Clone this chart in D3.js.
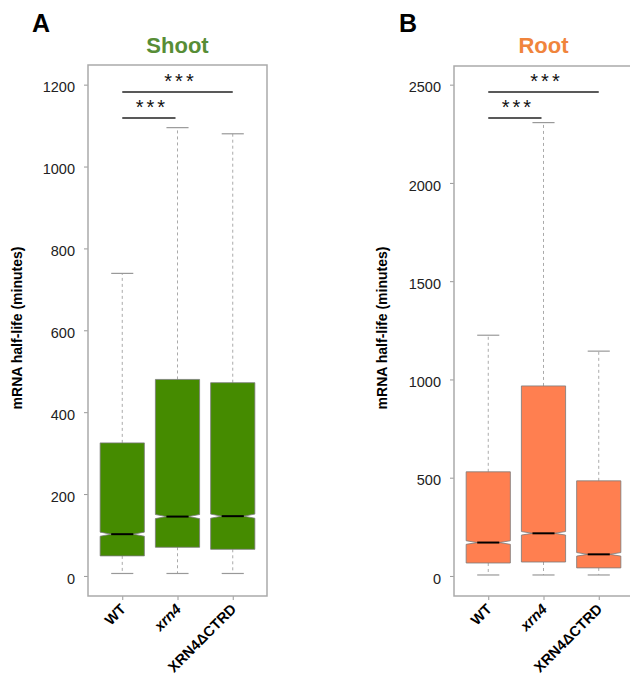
<!DOCTYPE html>
<html>
<head>
<meta charset="utf-8">
<script src="https://cdn.jsdelivr.net/npm/d3@7"></script>
<style>
  body { margin: 0; background: #fff; }
  svg { font-family: "Liberation Sans", Arial, sans-serif; }
</style>
</head>
<body>
<svg id="fig" width="630" height="677"></svg>
<script>
// groups on the x axis
let groups = ["WT", "xrn4", "XRN4ΔCTRD"]

// Shoot (panel A) box stats, minutes
let shootLow  = [6, 6, 6]
let shootQ1   = [49, 70, 65]
let shootMed  = [102, 145, 146]
let shootQ3   = [325, 480, 472]
let shootHigh = [739, 1095, 1080]
let shootNotch = [5, 5, 5]
let shootTicks = [0, 200, 400, 600, 800, 1000, 1200]

// Root (panel B) box stats, minutes
let rootLow  = [5, 5, 5]
let rootQ1   = [66, 71, 41]
let rootMed  = [170, 217, 110]
let rootQ3   = [530, 967, 484]
let rootHigh = [1225, 2307, 1144]
let rootNotch = [9, 9, 9]
let rootTicks = [0, 500, 1000, 1500, 2000, 2500]

// significance brackets: [from group, to group], label
let sigPairs = [[0, 1], [0, 2]]
let sigLabels = ["***", "***"]

let svg = d3.select("#fig")

let BoxPanel = function(opt){

    let g = svg.append("g")
    let L = opt.left, R = opt.right, T = opt.top, B = opt.bottom

    let x = d3.scaleLinear().domain([0.38, 3.62]).range([L, R])
    let y = d3.scaleLinear().domain(opt.domain).range([B, T])
    let halfW = x(1.4) - x(1)   // box half width = 0.4 units
    let capW = halfW / 2

    // panel letter + title
    g.append("text").attr("x", opt.letterX).attr("y", 32)
        .attr("font-size", 25).attr("font-weight", "bold").attr("fill", "#000")
        .text(opt.letter)
    g.append("text").attr("x", (L+R)/2).attr("y", 53)
        .attr("text-anchor", "middle").attr("font-size", 22).attr("font-weight", "bold")
        .attr("fill", opt.titleColor).text(opt.title)

    // y axis
    let yAxis = g.append("g").attr("transform", `translate(${L},0)`)
        .call(d3.axisLeft(y).tickValues(opt.ticks).tickSize(4).tickPadding(9).tickFormat(d3.format("d")))
    yAxis.select(".domain").remove()
    yAxis.selectAll("line").attr("stroke", "#999")
    yAxis.selectAll("text").attr("font-size", 14.5).attr("fill", "#222")
        .attr("font-family", "'Liberation Sans', Arial, sans-serif").attr("dy", "0.5em")

    // x axis
    let xAxis = g.append("g").attr("transform", `translate(0,${B})`)
        .call(d3.axisBottom(x).tickValues([1, 2, 3]).tickSize(4).tickFormat(i => groups[i-1]))
    xAxis.select(".domain").remove()
    xAxis.selectAll("line").attr("stroke", "#999")
    xAxis.selectAll("text")
        .attr("x", 0).attr("y", 0).attr("dy", 0)
        .attr("text-anchor", "end")
        .attr("transform", "translate(4,14) rotate(-45)")
        .attr("font-size", 14.5).attr("font-weight", "bold").attr("fill", "#000")
        .attr("font-family", "'Liberation Sans', Arial, sans-serif")
        .attr("font-style", (d) => d == 2 ? "italic" : "normal")

    // y label
    g.append("text")
        .attr("transform", `translate(${opt.ylabX},${328}) rotate(-90)`)
        .attr("text-anchor", "middle").attr("font-size", 14).attr("font-weight", "bold")
        .text("mRNA half-life (minutes)")

    // frame
    g.append("rect").attr("x", L).attr("y", T).attr("width", R-L).attr("height", B-T)
        .attr("fill", "none").attr("stroke", "#aaa").attr("stroke-width", 1.5)

    let idx = [0, 1, 2]
    let boxes = g.selectAll(".box").data(idx).enter().append("g").attr("class", "box")

    // whiskers
    boxes.append("line")
        .attr("x1", i => x(i+1)).attr("x2", i => x(i+1))
        .attr("y1", i => y(opt.q3[i])).attr("y2", i => y(opt.high[i]))
        .attr("stroke", "#aaa").attr("stroke-dasharray", "3,3")
    boxes.append("line")
        .attr("x1", i => x(i+1)).attr("x2", i => x(i+1))
        .attr("y1", i => y(opt.q1[i])).attr("y2", i => y(opt.low[i]))
        .attr("stroke", "#aaa").attr("stroke-dasharray", "3,3")
    // caps
    boxes.append("line")
        .attr("x1", i => x(i+1)-capW).attr("x2", i => x(i+1)+capW)
        .attr("y1", i => y(opt.high[i])).attr("y2", i => y(opt.high[i]))
        .attr("stroke", "#999").attr("stroke-width", 1.2)
    boxes.append("line")
        .attr("x1", i => x(i+1)-capW).attr("x2", i => x(i+1)+capW)
        .attr("y1", i => y(opt.low[i])).attr("y2", i => y(opt.low[i]))
        .attr("stroke", "#999").attr("stroke-width", 1.2)

    // notched box, R style
    boxes.append("path")
        .attr("d", i => {
            let c = x(i+1), w = halfW, wn = halfW*0.5
            let lo = opt.med[i]-opt.notch[i], hi = opt.med[i]+opt.notch[i]
            let pts = [[c-w, opt.q1[i]], [c-w, lo], [c-wn, opt.med[i]], [c-w, hi], [c-w, opt.q3[i]],
                       [c+w, opt.q3[i]], [c+w, hi], [c+wn, opt.med[i]], [c+w, lo], [c+w, opt.q1[i]]]
            return "M" + pts.map(p => `${p[0]},${y(p[1])}`).join("L") + "Z"
        })
        .attr("fill", opt.fill).attr("stroke", "#7a7a7a").attr("stroke-width", 0.8)
    // medians
    boxes.append("line")
        .attr("x1", i => x(i+1)-halfW*0.5).attr("x2", i => x(i+1)+halfW*0.5)
        .attr("y1", i => y(opt.med[i])).attr("y2", i => y(opt.med[i]))
        .attr("stroke", "#000").attr("stroke-width", 2)

    // significance brackets
    let lineY = [118, 92], starY = [114, 88]
    sigPairs.forEach((p, k) => {
        let x1 = x(p[0]+1), x2 = x(p[1]+1) - (k == 0 ? 2 : 0)
        g.append("line").attr("x1", x1).attr("x2", x2).attr("y1", lineY[k]).attr("y2", lineY[k])
            .attr("stroke", "#222").attr("stroke-width", 1.5)
        g.append("text").attr("x", (x1+x2)/2 + 3).attr("y", starY[k])
            .attr("text-anchor", "middle").attr("font-size", 20).attr("letter-spacing", 3)
            .attr("fill", "#111").text(sigLabels[k])
    })
}

BoxPanel({
    left: 88, right: 267, top: 65, bottom: 596, domain: [-49, 1248],
    letter: "A", letterX: 32, title: "Shoot", titleColor: "#578d36", ylabX: 22,
    fill: "#458B00", ticks: shootTicks,
    low: shootLow, q1: shootQ1, med: shootMed, q3: shootQ3, high: shootHigh, notch: shootNotch
})

BoxPanel({
    left: 454, right: 633, top: 66, bottom: 596, domain: [-102, 2595],
    letter: "B", letterX: 399, title: "Root", titleColor: "#f0843c", ylabX: 387,
    fill: "#FF7F50", ticks: rootTicks,
    low: rootLow, q1: rootQ1, med: rootMed, q3: rootQ3, high: rootHigh, notch: rootNotch
})
</script>
</body>
</html>
